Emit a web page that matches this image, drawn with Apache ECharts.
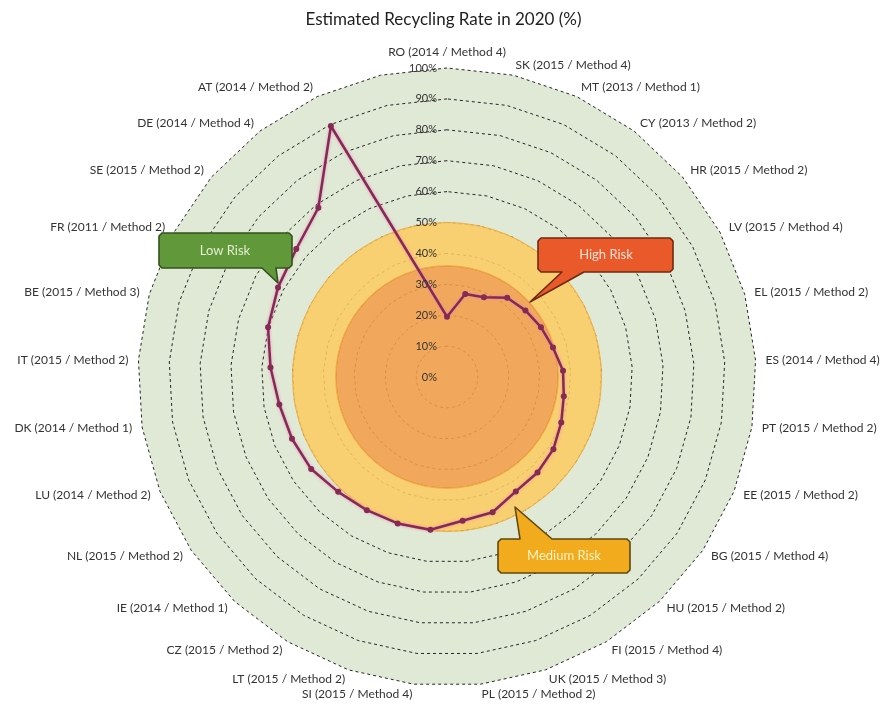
<!DOCTYPE html>
<html><head><meta charset="utf-8">
<script src="https://cdn.jsdelivr.net/npm/echarts@6/dist/echarts.min.js"></script>
<style>html,body{margin:0;padding:0;background:#fff}#c{width:887px;height:706px}</style>
</head><body><div id="c"></div>
<script>
// ---- data (clockwise from top; last category is an unlabeled empty slot) ----
const countries = ['RO','SK','MT','CY','HR','LV','EL','ES','PT','EE','BG','HU','FI','UK','PL','SI','LT','CZ','IE','NL','LU','DK','IT','BE','FR','SE','DE','AT',''];
const years     = [2014,2015,2013,2013,2015,2015,2015,2014,2015,2015,2015,2015,2015,2015,2015,2015,2015,2015,2014,2015,2014,2014,2015,2015,2011,2015,2014,2014,null];
const methods   = [4,4,1,2,2,4,2,4,2,2,4,2,4,3,2,4,2,2,1,2,2,1,2,3,2,2,4,2,null];
const rates     = [19.5,27.5,28.4,32.2,33.3,34.4,35.6,37.6,38.3,39.8,41.6,42.6,43.2,46.2,46.8,49.7,50.0,50.3,51.2,53.1,54.0,55.0,57.2,60.1,61.9,64.0,68.8,89.5];
const riskThresholds = [36, 50];   // high risk below 36 %, medium risk below 50 %
const tickStep = 10;

const labels = countries.map((c, i) => c ? c + ' (' + years[i] + ' / Method ' + methods[i] + ')' : '');
const N = countries.length;
// ECharts radar lays indicators counter-clockwise, so reverse the tail for clockwise order
const radarOrder = [0].concat(Array.from({length: N - 1}, (_, k) => N - 1 - k));

const CX = 447, CY = 377, R = 309;
const FONT = 'Lato, "Open Sans", sans-serif';

const linePts = rates.map((v, i) => [v, i]);
linePts.push({value: [rates[0], N], symbol: 'none'});

function bubble(points, fill, stroke, text, tx, ty, tcolor) {
  return [
    {type: 'polygon', shape: {points: points}, style: {fill: fill, stroke: stroke, lineWidth: 1.6, lineJoin: 'round'}, z: 100},
    {type: 'text', x: tx, y: ty, style: {text: text, fill: tcolor, font: '13px ' + FONT, align: 'center', verticalAlign: 'middle'}, z: 101}
  ];
}

const chart = echarts.init(document.getElementById('c'));
chart.setOption({
  animation: false,
  backgroundColor: '#ffffff',
  title: {
    text: 'Estimated Recycling Rate in 2020 (%)',
    left: 'center', top: 6,
    textStyle: {fontFamily: FONT, fontSize: 17, fontWeight: 'normal', color: '#1e1e1e'}
  },
  radar: {
    center: [CX, CY], radius: R, startAngle: 90, splitNumber: 10, shape: 'polygon',
    indicator: radarOrder.map(i => ({name: labels[i], min: 0, max: 100})),
    nameGap: 10,
    axisName: {color: '#333', fontSize: 12, fontFamily: FONT},
    axisLine: {show: false},
    axisTick: {show: false},
    axisLabel: {show: false},
    splitLine: {lineStyle: {color: '#262626', width: 1, type: [3, 3]}},
    splitArea: {show: true, areaStyle: {color: ['#DFE9D5']}}
  },
  polar: [
    {center: [CX, CY], radius: R},
    {center: [CX, CY], radius: R}
  ],
  angleAxis: [
    {polarIndex: 0, type: 'value', min: 0, max: N, startAngle: 90, clockwise: true, show: false},
    {polarIndex: 1, type: 'category', data: ['risk'], startAngle: 90, show: false}
  ],
  radiusAxis: [
    {polarIndex: 0, type: 'value', min: 0, max: 100, interval: tickStep, z: 10,
     axisLine: {show: false}, axisTick: {show: false}, splitLine: {show: false},
     axisLabel: {formatter: '{value}%', color: '#333', fontSize: 11, fontFamily: FONT, margin: 10}},
    {polarIndex: 1, type: 'value', min: 0, max: 100, show: false}
  ],
  series: [
    {type: 'bar', coordinateSystem: 'polar', polarIndex: 1, stack: 'risk', barWidth: '100%',
     data: [riskThresholds[0]], z: 2,
     itemStyle: {color: 'rgba(243,158,74,0.87)', borderColor: '#E2783A', borderWidth: 1.5}},
    {type: 'bar', coordinateSystem: 'polar', polarIndex: 1, stack: 'risk', barWidth: '100%',
     data: [riskThresholds[1] - riskThresholds[0]], z: 2,
     itemStyle: {color: 'rgba(252,203,98,0.87)', borderColor: '#EEB044', borderWidth: 1}},
    {type: 'line', coordinateSystem: 'polar', polarIndex: 0, data: linePts, z: 5,
     symbol: 'circle', symbolSize: 6,
     lineStyle: {color: '#852A55', width: 2.5, shadowColor: 'rgba(235,130,180,0.9)', shadowBlur: 3},
     itemStyle: {color: '#852A55'}}
  ],
  graphic: [].concat(
    bubble([[162,233],[289,233],[292,236],[292,265],[289,268],[276,268],[278,283],[262,268],[162,268],[159,265],[159,236]],
           '#60983A', '#34521E', 'Low Risk', 225, 251, '#E3EED2'),
    bubble([[541,238],[670,238],[673,241],[673,269],[670,272],[584,272],[530,302],[562,272],[541,272],[538,269],[538,241]],
           '#E9592A', '#6E2A12', 'High Risk', 606, 255, '#FBE2D6'),
    bubble([[501,539],[520,539],[515,507],[552,539],[627,539],[630,542],[630,570],[627,573],[501,573],[498,570],[498,542]],
           '#F1AB1C', '#5E4810', 'Medium Risk', 564, 556, '#FFF1C8')
  )
});
</script>
</body></html>
